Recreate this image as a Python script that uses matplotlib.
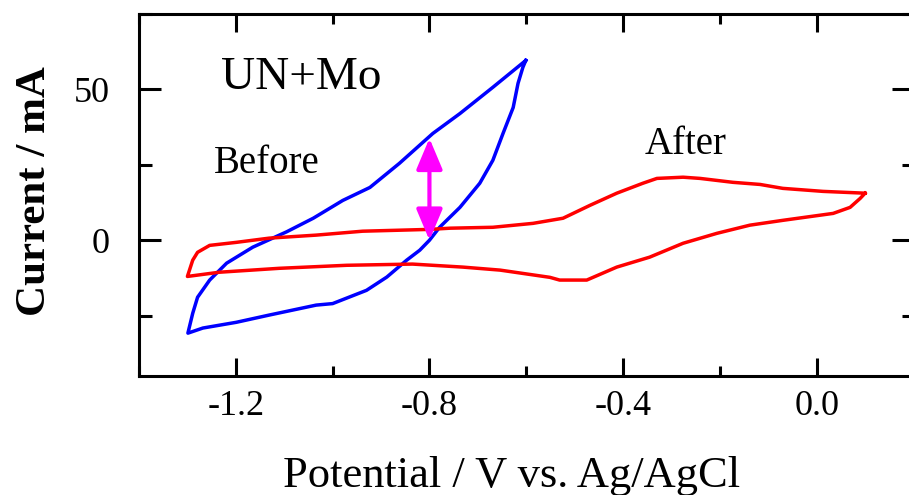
import matplotlib
matplotlib.use("Agg")
import matplotlib.pyplot as plt
from matplotlib.ticker import MultipleLocator

# "Before" CV loop (blue), potential V vs Ag/AgCl and current mA
before_potential = [-0.601, -0.669, -0.737, -0.793, -0.862, -0.923, -0.979, -1.040,
                    -1.095, -1.165, -1.219, -1.254, -1.279, -1.289, -1.299,
                    -1.268, -1.199, -1.131, -1.034, -1.000, -0.930, -0.888, -0.847,
                    -0.820, -0.800, -0.779, -0.737, -0.696, -0.669, -0.648, -0.627,
                    -0.617, -0.607, -0.601]
before_current = [59.6, 50.7, 42.0, 35.4, 25.5, 17.5, 13.2, 7.3,
                  2.8, -2.3, -7.6, -13.2, -18.9, -24.2, -30.8,
                  -29.1, -27.2, -24.8, -21.5, -21.0, -16.6, -12.2, -6.6,
                  -3.3, 0.0, 4.3, 10.9, 18.9, 26.5, 35.4, 44.0,
                  52.0, 57.3, 59.6]

# "After" CV loop (red)
after_potential = [0.100, 0.013, -0.070, -0.117, -0.173, -0.241, -0.276, -0.330, -0.359,
                   -0.413, -0.468, -0.524, -0.586, -0.669, -0.757, -0.800, -0.938,
                   -1.034, -1.131, -1.199, -1.254, -1.279, -1.289, -1.300,
                   -1.234, -1.110, -0.971, -0.835, -0.731, -0.654, -0.551, -0.531,
                   -0.475, -0.413, -0.345, -0.276, -0.206, -0.138, -0.070, 0.034,
                   0.069, 0.090, 0.100]
after_current = [15.6, 16.2, 17.2, 18.5, 19.2, 20.5, 20.9, 20.5, 18.9,
                 15.6, 11.6, 7.3, 5.6, 4.3, 4.0, 3.6, 3.0,
                 1.7, 0.7, -0.7, -1.7, -4.0, -6.6, -12.0,
                 -10.6, -9.3, -8.3, -7.9, -8.9, -9.9, -12.3, -13.2,
                 -13.2, -8.9, -5.6, -1.0, 2.3, 5.0, 6.6, 8.9,
                 10.9, 13.9, 15.6]

# Double arrow marking current difference at -0.8 V
arrow_potential = -0.8
arrow_current = [0.0, 33.8]

x_ticks = [-1.2, -0.8, -0.4, 0.0]
x_tick_labels = ["-1.2", "-0.8", "-0.4", "0.0"]
y_ticks = [0, 50]
y_tick_labels = ["0", "50"]

serif = ["Liberation Serif", "DejaVu Serif"]
plt.rcParams["font.family"] = serif

fig = plt.figure(figsize=(9.09, 4.95), dpi=100)
ax = fig.add_axes([139 / 909, 119 / 495, 774.5 / 909, 362 / 495])

ax.plot(before_potential, before_current, color="#0000FF", lw=2.5, solid_joinstyle="round")
ax.plot(after_potential, after_current, color="#FF0000", lw=2.5, solid_joinstyle="round")

ax.annotate("", xy=(arrow_potential, arrow_current[1]), xytext=(arrow_potential, arrow_current[0]),
            arrowprops=dict(arrowstyle="<|-|>,head_length=0.95,head_width=0.4",
                            color="#FF00FF", lw=3, mutation_scale=20,
                            shrinkA=0, shrinkB=0))

ax.set_xlim(-1.4, 0.2)
ax.set_ylim(-45, 75)

ax.set_xticks(x_ticks)
ax.set_xticklabels(x_tick_labels)
ax.set_yticks(y_ticks)
ax.set_yticklabels(y_tick_labels)
ax.xaxis.set_minor_locator(MultipleLocator(0.2))
ax.yaxis.set_minor_locator(MultipleLocator(25))

for s in ax.spines.values():
    s.set_linewidth(2.2)

ax.tick_params(axis="both", which="both", direction="in", top=True, right=True, width=2.2,
               labelsize=26)
ax.tick_params(axis="x", which="major", length=13, pad=10)
ax.tick_params(axis="x", which="minor", length=7)
ax.tick_params(axis="y", which="major", length=16, pad=21)
ax.tick_params(axis="y", which="minor", length=9)

ax.set_xlabel("Potential / V vs. Ag/AgCl", fontsize=32)
ax.xaxis.set_label_coords(0.4816, -0.22)
ax.set_ylabel("Current / mA", fontsize=31, fontweight="bold")
ax.yaxis.set_label_coords(-0.11, 0.51)

ax.text(-1.23, 50.3, "UN+Mo", fontsize=34, ha="left", va="baseline")
ax.text(-1.245, 22.2, "Before", fontsize=28, ha="left", va="baseline")
ax.text(-0.356, 28.5, "After", fontsize=28, ha="left", va="baseline")

fig.savefig("out.png", dpi=100)
